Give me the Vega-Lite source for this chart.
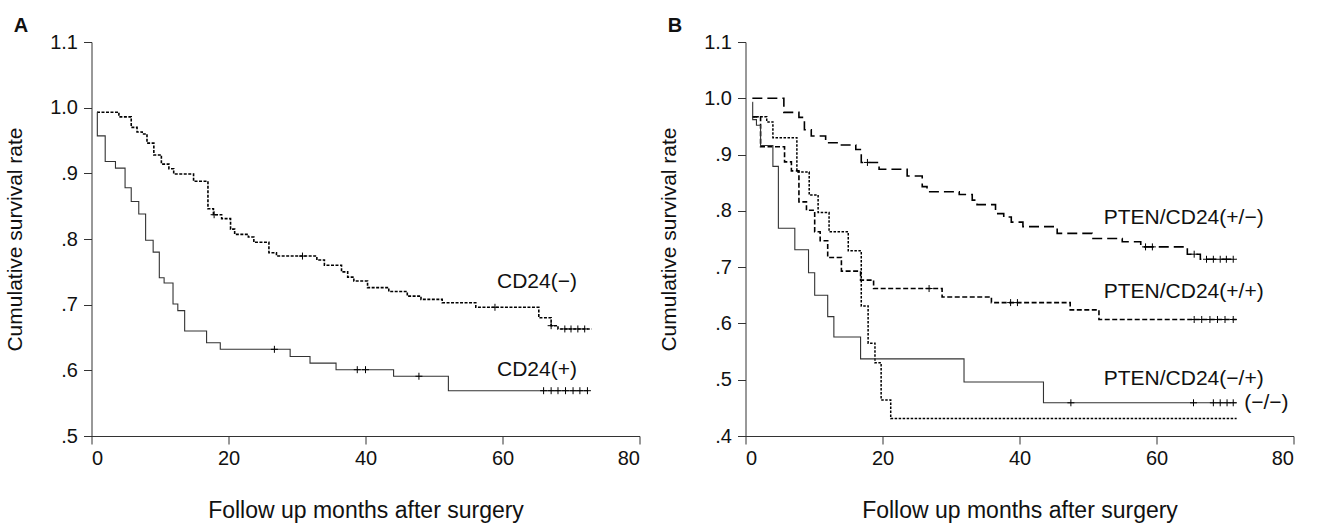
{
  "$schema": "https://vega.github.io/schema/vega-lite/v6.json",
  "background": "white",
  "padding": {"left": 4.5, "top": 16, "right": 5, "bottom": 5},
  "spacing": 18,
  "config": {
    "font": "Liberation Sans",
    "view": {"stroke": null},
    "axis": {
      "grid": false,
      "domainColor": "#333333",
      "tickColor": "#333333",
      "tickSize": 8,
      "labelColor": "#111111",
      "titleColor": "#111111",
      "labelFont": "Liberation Sans",
      "titleFont": "Liberation Sans",
      "labelFontSize": 20,
      "titleFontWeight": "normal"
    }
  },
  "datasets": {
    "curves": [
      {"panel": "A", "series": "neg", "month": 0.8, "rate": 0.993},
      {"panel": "A", "series": "neg", "month": 4.0, "rate": 0.986},
      {"panel": "A", "series": "neg", "month": 5.8, "rate": 0.970},
      {"panel": "A", "series": "neg", "month": 6.65, "rate": 0.963},
      {"panel": "A", "series": "neg", "month": 7.4, "rate": 0.960},
      {"panel": "A", "series": "neg", "month": 8.1, "rate": 0.946},
      {"panel": "A", "series": "neg", "month": 9.1, "rate": 0.928},
      {"panel": "A", "series": "neg", "month": 10.2, "rate": 0.914},
      {"panel": "A", "series": "neg", "month": 11.3, "rate": 0.907},
      {"panel": "A", "series": "neg", "month": 12.0, "rate": 0.899},
      {"panel": "A", "series": "neg", "month": 14.9, "rate": 0.888},
      {"panel": "A", "series": "neg", "month": 17.0, "rate": 0.846},
      {"panel": "A", "series": "neg", "month": 17.8, "rate": 0.837},
      {"panel": "A", "series": "neg", "month": 19.0, "rate": 0.831},
      {"panel": "A", "series": "neg", "month": 20.3, "rate": 0.815},
      {"panel": "A", "series": "neg", "month": 20.9, "rate": 0.807},
      {"panel": "A", "series": "neg", "month": 22.9, "rate": 0.803},
      {"panel": "A", "series": "neg", "month": 23.7, "rate": 0.795},
      {"panel": "A", "series": "neg", "month": 25.9, "rate": 0.779},
      {"panel": "A", "series": "neg", "month": 27.0, "rate": 0.774},
      {"panel": "A", "series": "neg", "month": 32.9, "rate": 0.768},
      {"panel": "A", "series": "neg", "month": 34.0, "rate": 0.760},
      {"panel": "A", "series": "neg", "month": 36.5, "rate": 0.750},
      {"panel": "A", "series": "neg", "month": 37.4, "rate": 0.742},
      {"panel": "A", "series": "neg", "month": 38.3, "rate": 0.736},
      {"panel": "A", "series": "neg", "month": 40.3, "rate": 0.726},
      {"panel": "A", "series": "neg", "month": 43.4, "rate": 0.720},
      {"panel": "A", "series": "neg", "month": 46.1, "rate": 0.713},
      {"panel": "A", "series": "neg", "month": 48.1, "rate": 0.708},
      {"panel": "A", "series": "neg", "month": 51.2, "rate": 0.703},
      {"panel": "A", "series": "neg", "month": 56.1, "rate": 0.696},
      {"panel": "A", "series": "neg", "month": 65.3, "rate": 0.680},
      {"panel": "A", "series": "neg", "month": 67.1, "rate": 0.668},
      {"panel": "A", "series": "neg", "month": 68.1, "rate": 0.663},
      {"panel": "A", "series": "neg", "month": 73.0, "rate": 0.663},

      {"panel": "A", "series": "pos", "month": 0.8, "rate": 0.993},
      {"panel": "A", "series": "pos", "month": 0.85, "rate": 0.957},
      {"panel": "A", "series": "pos", "month": 2.0, "rate": 0.918},
      {"panel": "A", "series": "pos", "month": 3.5, "rate": 0.908},
      {"panel": "A", "series": "pos", "month": 4.9, "rate": 0.878},
      {"panel": "A", "series": "pos", "month": 5.8, "rate": 0.857},
      {"panel": "A", "series": "pos", "month": 6.9, "rate": 0.838},
      {"panel": "A", "series": "pos", "month": 7.9, "rate": 0.798},
      {"panel": "A", "series": "pos", "month": 9.0, "rate": 0.780},
      {"panel": "A", "series": "pos", "month": 9.9, "rate": 0.741},
      {"panel": "A", "series": "pos", "month": 10.6, "rate": 0.733},
      {"panel": "A", "series": "pos", "month": 11.9, "rate": 0.701},
      {"panel": "A", "series": "pos", "month": 12.6, "rate": 0.691},
      {"panel": "A", "series": "pos", "month": 13.6, "rate": 0.660},
      {"panel": "A", "series": "pos", "month": 16.8, "rate": 0.642},
      {"panel": "A", "series": "pos", "month": 18.8, "rate": 0.632},
      {"panel": "A", "series": "pos", "month": 29.0, "rate": 0.621},
      {"panel": "A", "series": "pos", "month": 31.9, "rate": 0.611},
      {"panel": "A", "series": "pos", "month": 35.7, "rate": 0.601},
      {"panel": "A", "series": "pos", "month": 44.1, "rate": 0.591},
      {"panel": "A", "series": "pos", "month": 52.1, "rate": 0.569},
      {"panel": "A", "series": "pos", "month": 72.5, "rate": 0.569},

      {"panel": "B", "series": "pm", "month": 1.0, "rate": 1.0},
      {"panel": "B", "series": "pm", "month": 5.6, "rate": 0.975},
      {"panel": "B", "series": "pm", "month": 7.8, "rate": 0.966},
      {"panel": "B", "series": "pm", "month": 8.6, "rate": 0.944},
      {"panel": "B", "series": "pm", "month": 9.6, "rate": 0.933},
      {"panel": "B", "series": "pm", "month": 11.7, "rate": 0.921},
      {"panel": "B", "series": "pm", "month": 13.6, "rate": 0.917},
      {"panel": "B", "series": "pm", "month": 16.1, "rate": 0.909},
      {"panel": "B", "series": "pm", "month": 16.9, "rate": 0.886},
      {"panel": "B", "series": "pm", "month": 19.5, "rate": 0.874},
      {"panel": "B", "series": "pm", "month": 23.6, "rate": 0.862},
      {"panel": "B", "series": "pm", "month": 25.8, "rate": 0.843},
      {"panel": "B", "series": "pm", "month": 26.5, "rate": 0.834},
      {"panel": "B", "series": "pm", "month": 31.2, "rate": 0.829},
      {"panel": "B", "series": "pm", "month": 33.1, "rate": 0.819},
      {"panel": "B", "series": "pm", "month": 33.8, "rate": 0.811},
      {"panel": "B", "series": "pm", "month": 36.5, "rate": 0.795},
      {"panel": "B", "series": "pm", "month": 37.7, "rate": 0.789},
      {"panel": "B", "series": "pm", "month": 38.8, "rate": 0.780},
      {"panel": "B", "series": "pm", "month": 40.5, "rate": 0.772},
      {"panel": "B", "series": "pm", "month": 45.5, "rate": 0.760},
      {"panel": "B", "series": "pm", "month": 50.6, "rate": 0.751},
      {"panel": "B", "series": "pm", "month": 55.0, "rate": 0.745},
      {"panel": "B", "series": "pm", "month": 57.7, "rate": 0.736},
      {"panel": "B", "series": "pm", "month": 64.5, "rate": 0.723},
      {"panel": "B", "series": "pm", "month": 66.4, "rate": 0.714},
      {"panel": "B", "series": "pm", "month": 71.7, "rate": 0.714},

      {"panel": "B", "series": "pp", "month": 1.0, "rate": 0.967},
      {"panel": "B", "series": "pp", "month": 2.2, "rate": 0.914},
      {"panel": "B", "series": "pp", "month": 5.7, "rate": 0.887},
      {"panel": "B", "series": "pp", "month": 6.7, "rate": 0.871},
      {"panel": "B", "series": "pp", "month": 7.8, "rate": 0.816},
      {"panel": "B", "series": "pp", "month": 8.9, "rate": 0.801},
      {"panel": "B", "series": "pp", "month": 10.1, "rate": 0.763},
      {"panel": "B", "series": "pp", "month": 10.9, "rate": 0.747},
      {"panel": "B", "series": "pp", "month": 12.0, "rate": 0.717},
      {"panel": "B", "series": "pp", "month": 14.0, "rate": 0.693},
      {"panel": "B", "series": "pp", "month": 16.8, "rate": 0.677},
      {"panel": "B", "series": "pp", "month": 18.7, "rate": 0.662},
      {"panel": "B", "series": "pp", "month": 28.7, "rate": 0.647},
      {"panel": "B", "series": "pp", "month": 35.9, "rate": 0.637},
      {"panel": "B", "series": "pp", "month": 47.4, "rate": 0.624},
      {"panel": "B", "series": "pp", "month": 51.6, "rate": 0.607},
      {"panel": "B", "series": "pp", "month": 71.7, "rate": 0.607},

      {"panel": "B", "series": "mp", "month": 1.0, "rate": 0.993},
      {"panel": "B", "series": "mp", "month": 1.05, "rate": 0.962},
      {"panel": "B", "series": "mp", "month": 1.6, "rate": 0.952},
      {"panel": "B", "series": "mp", "month": 2.2, "rate": 0.916},
      {"panel": "B", "series": "mp", "month": 4.0, "rate": 0.879},
      {"panel": "B", "series": "mp", "month": 4.8, "rate": 0.769},
      {"panel": "B", "series": "mp", "month": 7.2, "rate": 0.731},
      {"panel": "B", "series": "mp", "month": 9.2, "rate": 0.690},
      {"panel": "B", "series": "mp", "month": 10.1, "rate": 0.650},
      {"panel": "B", "series": "mp", "month": 12.0, "rate": 0.612},
      {"panel": "B", "series": "mp", "month": 12.9, "rate": 0.576},
      {"panel": "B", "series": "mp", "month": 16.8, "rate": 0.537},
      {"panel": "B", "series": "mp", "month": 31.9, "rate": 0.496},
      {"panel": "B", "series": "mp", "month": 43.5, "rate": 0.459},
      {"panel": "B", "series": "mp", "month": 71.7, "rate": 0.459},

      {"panel": "B", "series": "mm", "month": 1.0, "rate": 0.967},
      {"panel": "B", "series": "mm", "month": 3.1, "rate": 0.958},
      {"panel": "B", "series": "mm", "month": 4.0, "rate": 0.930},
      {"panel": "B", "series": "mm", "month": 7.5, "rate": 0.869},
      {"panel": "B", "series": "mm", "month": 9.3, "rate": 0.828},
      {"panel": "B", "series": "mm", "month": 10.6, "rate": 0.797},
      {"panel": "B", "series": "mm", "month": 12.2, "rate": 0.763},
      {"panel": "B", "series": "mm", "month": 15.0, "rate": 0.729},
      {"panel": "B", "series": "mm", "month": 16.9, "rate": 0.631},
      {"panel": "B", "series": "mm", "month": 17.9, "rate": 0.565},
      {"panel": "B", "series": "mm", "month": 18.9, "rate": 0.530},
      {"panel": "B", "series": "mm", "month": 19.8, "rate": 0.464},
      {"panel": "B", "series": "mm", "month": 21.2, "rate": 0.431},
      {"panel": "B", "series": "mm", "month": 71.7, "rate": 0.431}
    ],
    "censors": [
      {"panel": "A", "month": 17.9, "rate": 0.837},
      {"panel": "A", "month": 30.8, "rate": 0.774},
      {"panel": "A", "month": 58.9, "rate": 0.696},
      {"panel": "A", "month": 67.1, "rate": 0.668},
      {"panel": "A", "month": 69.1, "rate": 0.663},
      {"panel": "A", "month": 70.0, "rate": 0.663},
      {"panel": "A", "month": 71.0, "rate": 0.663},
      {"panel": "A", "month": 72.0, "rate": 0.663},
      {"panel": "A", "month": 26.7, "rate": 0.632},
      {"panel": "A", "month": 38.8, "rate": 0.601},
      {"panel": "A", "month": 40.0, "rate": 0.601},
      {"panel": "A", "month": 47.8, "rate": 0.591},
      {"panel": "A", "month": 66.0, "rate": 0.569},
      {"panel": "A", "month": 67.1, "rate": 0.569},
      {"panel": "A", "month": 68.1, "rate": 0.569},
      {"panel": "A", "month": 69.2, "rate": 0.569},
      {"panel": "A", "month": 70.3, "rate": 0.569},
      {"panel": "A", "month": 71.3, "rate": 0.569},
      {"panel": "A", "month": 72.4, "rate": 0.569},
      {"panel": "B", "month": 17.8, "rate": 0.886},
      {"panel": "B", "month": 58.4, "rate": 0.736},
      {"panel": "B", "month": 59.4, "rate": 0.736},
      {"panel": "B", "month": 65.5, "rate": 0.723},
      {"panel": "B", "month": 67.3, "rate": 0.714},
      {"panel": "B", "month": 68.3, "rate": 0.714},
      {"panel": "B", "month": 69.3, "rate": 0.714},
      {"panel": "B", "month": 70.2, "rate": 0.714},
      {"panel": "B", "month": 71.2, "rate": 0.714},
      {"panel": "B", "month": 26.8, "rate": 0.662},
      {"panel": "B", "month": 38.7, "rate": 0.637},
      {"panel": "B", "month": 39.7, "rate": 0.637},
      {"panel": "B", "month": 65.5, "rate": 0.607},
      {"panel": "B", "month": 66.6, "rate": 0.607},
      {"panel": "B", "month": 67.8, "rate": 0.607},
      {"panel": "B", "month": 68.9, "rate": 0.607},
      {"panel": "B", "month": 70.0, "rate": 0.607},
      {"panel": "B", "month": 71.2, "rate": 0.607},
      {"panel": "B", "month": 47.5, "rate": 0.459},
      {"panel": "B", "month": 65.4, "rate": 0.459},
      {"panel": "B", "month": 68.3, "rate": 0.459},
      {"panel": "B", "month": 69.3, "rate": 0.459},
      {"panel": "B", "month": 70.3, "rate": 0.459},
      {"panel": "B", "month": 71.2, "rate": 0.459}
    ],
    "labels": [
      {"panel": "A", "month": 59.2, "rate": 0.735, "text": "CD24(−)"},
      {"panel": "A", "month": 59.2, "rate": 0.601, "text": "CD24(+)"},
      {"panel": "B", "month": 52.3, "rate": 0.787, "text": "PTEN/CD24(+/−)"},
      {"panel": "B", "month": 52.3, "rate": 0.655, "text": "PTEN/CD24(+/+)"},
      {"panel": "B", "month": 52.3, "rate": 0.502, "text": "PTEN/CD24(−/+)"},
      {"panel": "B", "month": 72.8, "rate": 0.4595, "text": "(−/−)"}
    ]
  },
  "hconcat": [
    {
      "width": 548,
      "height": 394,
      "title": {"text": "A", "anchor": "start", "frame": "bounds", "fontSize": 20, "fontWeight": "bold", "font": "Liberation Sans", "color": "#111111", "offset": -4, "dx": 9},
      "encoding": {
        "x": {"field": "month", "type": "quantitative", "scale": {"domain": [0, 80], "nice": false},
              "axis": {"values": [0, 20, 40, 60, 80], "title": "Follow up months after surgery", "titleFontSize": 23, "titlePadding": 31, "labelPadding": 4}},
        "y": {"field": "rate", "type": "quantitative", "scale": {"domain": [0.5, 1.1], "nice": false, "zero": false},
              "axis": {"values": [0.5, 0.6, 0.7, 0.8, 0.9, 1.0, 1.1], "labelExpr": "datum.value >= 1 ? format(datum.value, '.1f') : replace(format(datum.value, '.1f'), '0.', '.')", "title": "Cumulative survival rate", "titleFontSize": 21, "titlePadding": 24, "labelPadding": 6}}
      },
      "layer": [
        {"data": {"name": "curves"}, "transform": [{"filter": "datum.panel === 'A' && datum.series === 'neg'"}],
         "mark": {"type": "line", "interpolate": "step-after", "color": "#000000", "strokeWidth": 1.6, "strokeDash": [3, 1.5]}},
        {"data": {"name": "curves"}, "transform": [{"filter": "datum.panel === 'A' && datum.series === 'pos'"}],
         "mark": {"type": "line", "interpolate": "step-after", "color": "#333333", "strokeWidth": 1.1}},
        {"data": {"name": "censors"}, "transform": [{"filter": "datum.panel === 'A'"}],
         "mark": {"type": "point", "shape": "M-1,0L1,0M0,-1L0,1", "filled": false, "stroke": "#000000", "strokeWidth": 1, "size": 49, "opacity": 1}},
        {"data": {"name": "labels"}, "transform": [{"filter": "datum.panel === 'A'"}],
         "mark": {"type": "text", "align": "left", "baseline": "middle", "fontSize": 21, "color": "#111111"},
         "encoding": {"text": {"field": "text", "type": "nominal"}}}
      ]
    },
    {
      "width": 548,
      "height": 394,
      "title": {"text": "B", "anchor": "start", "frame": "bounds", "fontSize": 20, "fontWeight": "bold", "font": "Liberation Sans", "color": "#111111", "offset": -4, "dx": 9},
      "encoding": {
        "x": {"field": "month", "type": "quantitative", "scale": {"domain": [0, 80], "nice": false},
              "axis": {"values": [0, 20, 40, 60, 80], "title": "Follow up months after surgery", "titleFontSize": 23, "titlePadding": 31, "labelPadding": 4}},
        "y": {"field": "rate", "type": "quantitative", "scale": {"domain": [0.4, 1.1], "nice": false, "zero": false},
              "axis": {"values": [0.4, 0.5, 0.6, 0.7, 0.8, 0.9, 1.0, 1.1], "labelExpr": "datum.value >= 1 ? format(datum.value, '.1f') : replace(format(datum.value, '.1f'), '0.', '.')", "title": "Cumulative survival rate", "titleFontSize": 21, "titlePadding": 24, "labelPadding": 6}}
      },
      "layer": [
        {"data": {"name": "curves"}, "transform": [{"filter": "datum.panel === 'B' && datum.series === 'pm'"}],
         "mark": {"type": "line", "interpolate": "step-after", "color": "#000000", "strokeWidth": 1.6, "strokeDash": [10, 5]}},
        {"data": {"name": "curves"}, "transform": [{"filter": "datum.panel === 'B' && datum.series === 'pp'"}],
         "mark": {"type": "line", "interpolate": "step-after", "color": "#000000", "strokeWidth": 1.6, "strokeDash": [5, 2.5]}},
        {"data": {"name": "curves"}, "transform": [{"filter": "datum.panel === 'B' && datum.series === 'mm'"}],
         "mark": {"type": "line", "interpolate": "step-after", "color": "#000000", "strokeWidth": 1.5, "strokeDash": [2.5, 1.5]}},
        {"data": {"name": "curves"}, "transform": [{"filter": "datum.panel === 'B' && datum.series === 'mp'"}],
         "mark": {"type": "line", "interpolate": "step-after", "color": "#333333", "strokeWidth": 1.1}},
        {"data": {"name": "censors"}, "transform": [{"filter": "datum.panel === 'B'"}],
         "mark": {"type": "point", "shape": "M-1,0L1,0M0,-1L0,1", "filled": false, "stroke": "#000000", "strokeWidth": 1, "size": 49, "opacity": 1}},
        {"data": {"name": "labels"}, "transform": [{"filter": "datum.panel === 'B'"}],
         "mark": {"type": "text", "align": "left", "baseline": "middle", "fontSize": 21, "color": "#111111"},
         "encoding": {"text": {"field": "text", "type": "nominal"}}}
      ]
    }
  ]
}
